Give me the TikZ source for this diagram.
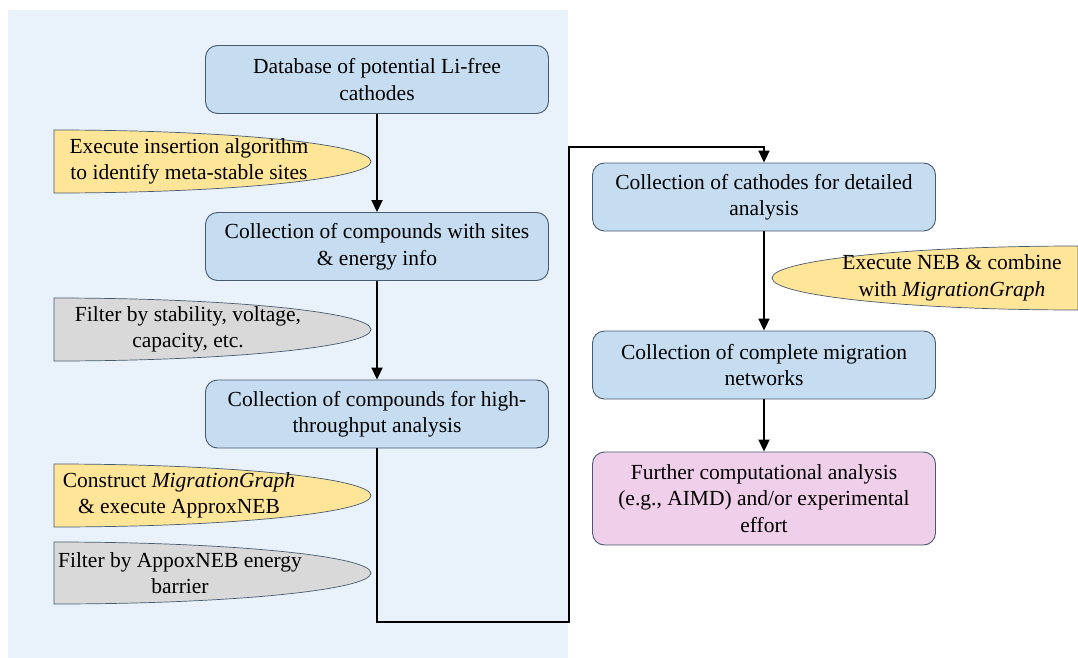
\documentclass[tikz,border=0pt]{standalone}
\usepackage{fontspec}
\setmainfont{LiberationSerif}[Extension=.ttf, UprightFont=*-Regular, ItalicFont=*-Italic, BoldFont=*-Bold, BoldItalicFont=*-BoldItalic]
\usetikzlibrary{arrows.meta}

\definecolor{panelbg}{HTML}{E9F1FA}
\definecolor{stagefill}{HTML}{C6DCF0}
\definecolor{edgec}{HTML}{475A70}
\definecolor{notey}{HTML}{FFE598}
\definecolor{noteg}{HTML}{D9D9D9}
\definecolor{endfill}{HTML}{F0CFEA}

\tikzset{
  stage/.style={draw=edgec, line width=0.9pt, fill=stagefill, rounded corners=12pt,
    minimum width=343pt, minimum height=68pt, align=center, inner sep=0pt},
  notetext/.style={align=center, inner sep=0pt},
  noteline/.style={draw=edgec, line width=0.7pt},
  flow/.style={line width=2pt, -{Triangle[length=12pt,width=11pt]}}
}

\begin{document}
\begin{tikzpicture}[x=1pt, y=-1pt, every node/.style={font=\fontsize{21.5}{26.5}\selectfont}]
 \useasboundingbox (0,0) rectangle (1078,658);
 \fill[panelbg] (8,10) rectangle (568,658);

 % half-ellipse notes, flat side left
 \draw[noteline, fill=notey] (54,130) arc[start angle=90, end angle=-90, x radius=317pt, y radius=31.5pt] -- cycle;
 \draw[noteline, fill=noteg] (54,298) arc[start angle=90, end angle=-90, x radius=317pt, y radius=31.5pt] -- cycle;
 \draw[noteline, fill=notey] (54,464) arc[start angle=90, end angle=-90, x radius=317pt, y radius=31.5pt] -- cycle;
 \draw[noteline, fill=noteg] (54,542) arc[start angle=90, end angle=-90, x radius=317pt, y radius=31pt] -- cycle;
 % flat side right
 \draw[noteline, fill=notey] (1078,246) arc[start angle=90, end angle=270, x radius=306pt, y radius=32pt] -- cycle;

 \node[notetext] (ins) at (189,161.5) {Execute insertion algorithm\\to identify meta-stable sites};
 \node[notetext] (stab) at (188,329.5) {Filter by stability, voltage,\\capacity, etc.};
 \node[notetext] (mgraph) at (179,495.5) {Construct \textit{MigrationGraph}\\\& execute ApproxNEB};
 \node[notetext] (barr) at (180,573) {Filter by AppoxNEB energy\\barrier};
 \node[notetext] (neb) at (952,278) {Execute NEB \& combine\\with \textit{MigrationGraph}};

 \node[stage] (db) at (377,79.5) {Database of potential Li-free\\cathodes};
 \node[stage] (sites) at (377,246.5) {Collection of compounds with sites\\\& energy info};
 \node[stage] (ht) at (377,414) {Collection of compounds for high-\\throughput analysis};
 \node[stage] (det) at (764,197) {Collection of cathodes for detailed\\analysis};
 \node[stage] (net) at (764,365) {Collection of complete migration\\networks};
 \node[stage, fill=endfill, minimum height=93pt] (further) at (764,498.5) {Further computational analysis\\(e.g., AIMD) and/or experimental\\effort};

 \coordinate (lowR) at (569,622);
 \coordinate (topR) at (764,147);

 \draw[flow] (db) -- (sites);
 \draw[flow] (sites) -- (ht);
 \draw[flow] (ht.south) |- (lowR) |- (topR) -- (det.north);
 \draw[flow] (det) -- (net);
 \draw[flow] (net) -- (further);
\end{tikzpicture}
\end{document}
